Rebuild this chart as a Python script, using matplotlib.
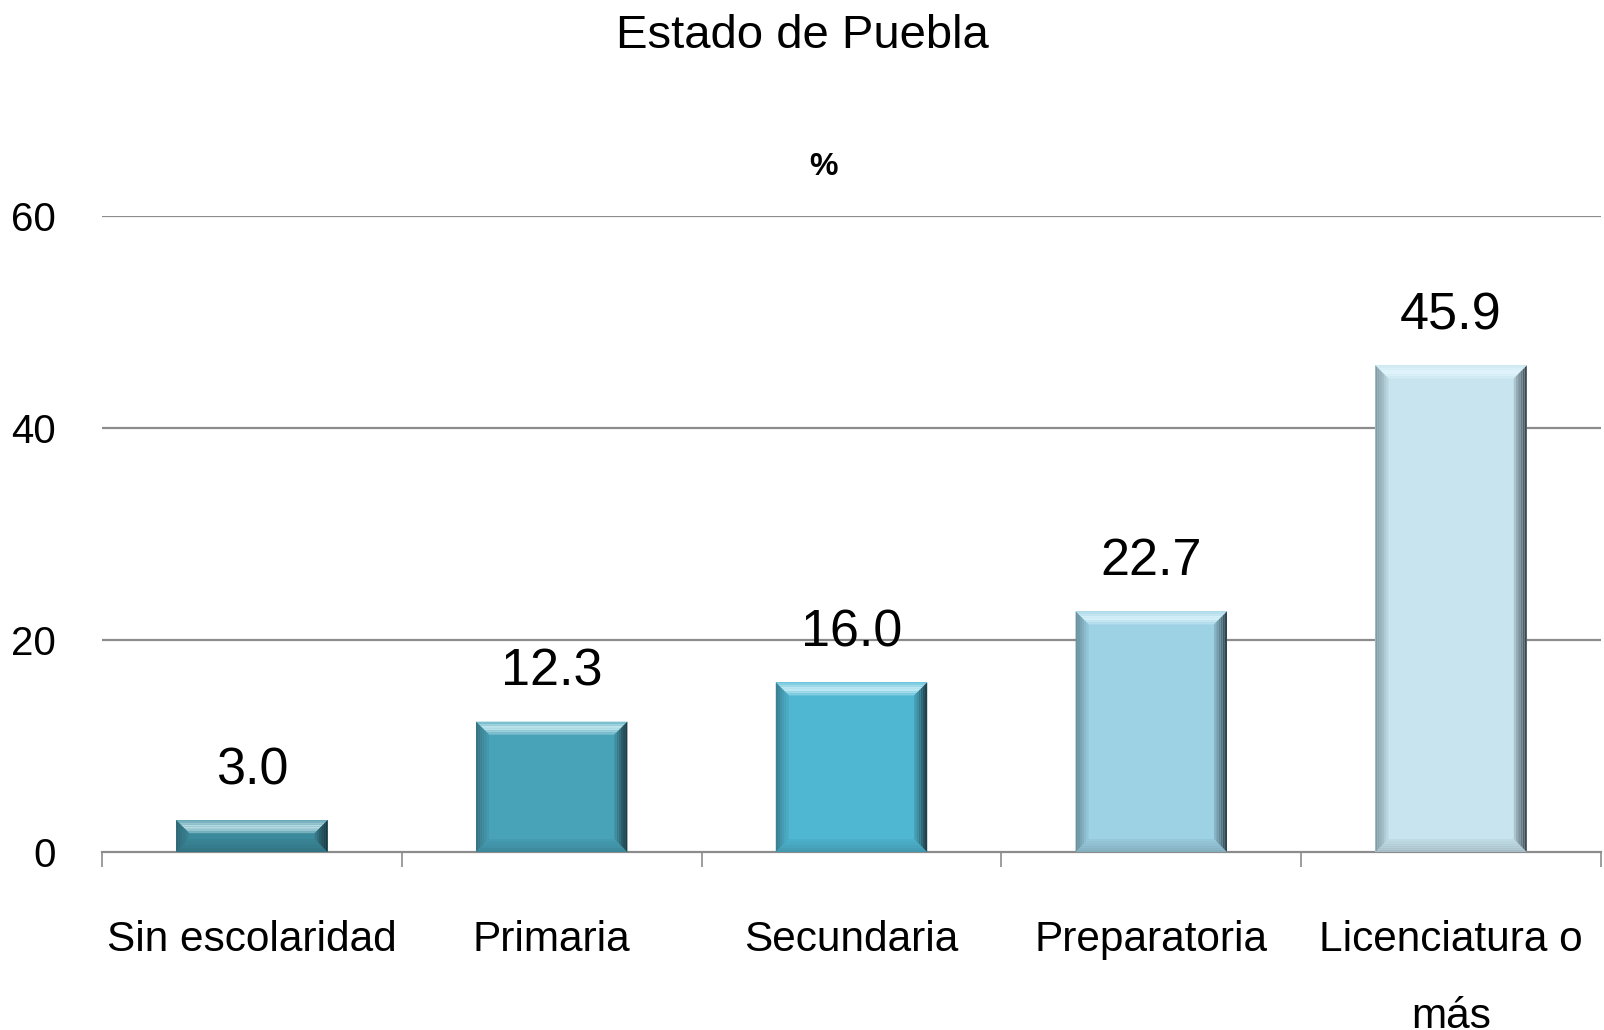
import matplotlib.pyplot as plt
from matplotlib.patches import Polygon, Rectangle
from matplotlib.colors import to_rgb
import numpy as np

categories = ['Sin escolaridad', 'Primaria', 'Secundaria', 'Preparatoria', 'Licenciatura o\nmás']
values = [3.0, 12.3, 16.0, 22.7, 45.9]
bar_colors = ['#3b8a9c', '#48a2b8', '#4fb7d2', '#9dd1e4', '#c8e4ef']
yticks = [0, 20, 40, 60]

plt.rcParams['font.family'] = ['Liberation Sans', 'DejaVu Sans']

W, H = 1604, 1030
fig = plt.figure(figsize=(W / 100, H / 100), dpi=100)
ax = fig.add_axes([102 / W, 1 - 852 / H, 1499 / W, 636 / H])

n = len(categories)
ax.set_xlim(0, n)
ax.set_ylim(0, 60)

# horizontal grid
for y in yticks[1:]:
    ax.axhline(y, color='#8c8c8c', lw=1.6, zorder=1)
for s in ['top', 'right', 'left']:
    ax.spines[s].set_visible(False)
ax.spines['bottom'].set_color('#8c8c8c')
ax.spines['bottom'].set_linewidth(1.6)

ax.set_yticks(yticks)
ax.set_yticklabels([str(v) for v in yticks], fontsize=29)
ax.tick_params(axis='y', length=0, pad=33)

ax.set_xticks(np.arange(n + 1))
ax.set_xticklabels([])
ax.tick_params(axis='x', which='major', length=11, width=1.2, color='#8c8c8c')
ax.set_xticks(np.arange(n) + 0.5, minor=True)
ax.set_xticklabels(categories, minor=True, fontsize=30.5)
ax.tick_params(axis='x', which='minor', length=0, pad=49)
for t in ax.get_xticklabels(minor=True):
    t.set_linespacing(2.2)
    t.set_verticalalignment('top')


def mix(c, other, f):
    c = np.array(to_rgb(c))
    o = np.array(to_rgb(other))
    return tuple(c * (1 - f) + o * f)


# bevel size in pixels -> data units
bpx = 13
bx = bpx / (1499 / n)
by = bpx / (636 / 60)
strips = 6
bw = 0.505

for i, (v, c) in enumerate(zip(values, bar_colors)):
    x0 = i + 0.5 - bw / 2
    x1 = x0 + bw
    y0, y1 = 0, v
    ax.add_patch(Rectangle((x0, y0), bw, v, facecolor=c, edgecolor='none', zorder=3))
    for k in range(strips):
        a = k / strips
        b = (k + 1) / strips
        t = 1 - (k + 0.5) / strips  # 1 at outer edge
        # top
        ax.add_patch(Polygon([(x0 + a * bx, y1 - a * by), (x1 - a * bx, y1 - a * by),
                              (x1 - b * bx, y1 - b * by), (x0 + b * bx, y1 - b * by)],
                             closed=True, facecolor=mix(c, '#e8fbff', 0.25 + 0.55 * (1 - abs(t - 0.5) * 2)),
                             edgecolor='none', zorder=4))
        # bottom
        ax.add_patch(Polygon([(x0 + a * bx, y0 + a * by), (x1 - a * bx, y0 + a * by),
                              (x1 - b * bx, y0 + b * by), (x0 + b * bx, y0 + b * by)],
                             closed=True, facecolor=mix(c, 'black', 0.03 + 0.15 * t),
                             edgecolor='none', zorder=4))
        # left
        ax.add_patch(Polygon([(x0 + a * bx, y0 + a * by), (x0 + a * bx, y1 - a * by),
                              (x0 + b * bx, y1 - b * by), (x0 + b * bx, y0 + b * by)],
                             closed=True, facecolor=mix(c, '#20343a', 0.05 + 0.4 * t),
                             edgecolor='none', zorder=4))
        # right
        ax.add_patch(Polygon([(x1 - a * bx, y0 + a * by), (x1 - a * bx, y1 - a * by),
                              (x1 - b * bx, y1 - b * by), (x1 - b * bx, y0 + b * by)],
                             closed=True, facecolor=mix(c, '#142024', 0.1 + 0.75 * t),
                             edgecolor='none', zorder=4))
    ax.annotate(f'{v:.1f}', (i + 0.5, v), xytext=(0, 18), textcoords='offset points',
                ha='center', va='bottom', fontsize=37.5, zorder=5)

fig.text(0.5, 1 - 36 / H, 'Estado de Puebla', ha='center', va='center', fontsize=34)
fig.text(823 / W, 1 - 167 / H, '%', ha='center', va='center', fontsize=23, fontweight='bold')

fig.savefig('out.png', dpi=100)
